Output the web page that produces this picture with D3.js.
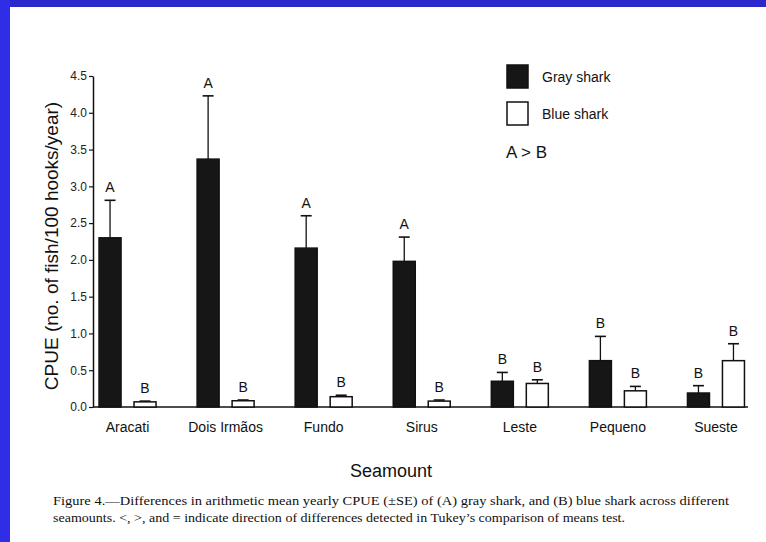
<!DOCTYPE html>
<html>
<head>
<meta charset="utf-8">
<script src="https://cdn.jsdelivr.net/npm/d3@7"></script>
<style>
  body { margin: 0; background: #fff; }
  svg { display: block; font-family: "Liberation Sans", Arial, sans-serif; }
</style>
</head>
<body>
<div id="chart"></div>
<script>
// seamounts and CPUE (no. of fish/100 hooks/year)
const seamounts = ['Aracati', 'Dois Irmãos', 'Fundo', 'Sirus', 'Leste', 'Pequeno', 'Sueste']
const species = ['Gray shark', 'Blue shark']
const grayMean = [2.30, 3.37, 2.16, 1.98, 0.35, 0.63, 0.19]
const grayTop = [2.81, 4.23, 2.60, 2.31, 0.47, 0.96, 0.29]
const blueMean = [0.07, 0.085, 0.14, 0.08, 0.32, 0.22, 0.63]
const blueTop = [0.08, 0.095, 0.16, 0.095, 0.37, 0.28, 0.86]
const grayLetter = ['A', 'A', 'A', 'A', 'B', 'B', 'B']
const blueLetter = ['B', 'B', 'B', 'B', 'B', 'B', 'B']
const yTicks = [0, 0.5, 1, 1.5, 2, 2.5, 3, 3.5, 4, 4.5]
const captionLines = [
  'Figure 4.\u2014Differences in arithmetic mean yearly CPUE (\u00b1SE) of (A) gray shark, and (B) blue shark across different',
  'seamounts. <, >, and = indicate direction of differences detected in Tukey\u2019s comparison of means test.'
]

const W = 766
const H = 542
const chart = {left: 93, right: 748, top: 76, bottom: 407}

const svg = d3.select('#chart')
  .append('svg')
  .attr('width', W)
  .attr('height', H)

svg.append('rect').attr('width', W).attr('height', H).attr('fill', '#fff')
// blue slide frame
svg.append('rect').attr('x', 0).attr('y', 0).attr('width', W).attr('height', 7).attr('fill', '#2b28cc')
svg.append('rect').attr('x', 0).attr('y', 0).attr('width', 10).attr('height', H).attr('fill', '#2f2ee6')

const x = d3.scaleBand()
  .domain(seamounts)
  .range([78.5, 765])
  .padding(0)

const inner = d3.scaleBand()
  .domain(species)
  .range([-28.5, 28.5])
  .paddingInner(0.371)

const y = d3.scaleLinear()
  .domain([0, 4.5])
  .range([chart.bottom, chart.top])

// build rows for the bars
let rows = []
seamounts.forEach((s, i) => {
  rows.push({seamount: s, sp: species[0], mean: grayMean[i], top: grayTop[i], letter: grayLetter[i]})
  rows.push({seamount: s, sp: species[1], mean: blueMean[i], top: blueTop[i], letter: blueLetter[i]})
})
const cx = d => x(d.seamount) + x.bandwidth() / 2 + inner(d.sp)

// y axis
const yAxis = d3.axisLeft(y)
  .tickValues(yTicks)
  .tickFormat(d3.format('.1f'))
  .tickSize(4)
  .tickSizeOuter(0)

const gy = svg.append('g')
  .attr('transform', 'translate(' + chart.left + ',0)')
  .call(yAxis)
gy.select('.domain').attr('stroke', '#111').attr('stroke-width', 1.5)
gy.selectAll('.tick line').attr('stroke', '#111').attr('stroke-width', 1.2)
gy.selectAll('.tick text')
  .attr('x', -6)
  .attr('fill', '#222')
  .style('font-size', '12px')
  .style('font-family', '"Liberation Sans", Arial, sans-serif')

// x axis baseline
svg.append('line')
  .attr('x1', chart.left)
  .attr('x2', chart.right)
  .attr('y1', y(0))
  .attr('y2', y(0))
  .attr('stroke', '#111')
  .attr('stroke-width', 1.5)

// error bars (drawn under the bars)
let err = svg.selectAll('.err')
  .data(rows)
  .enter()
  .append('g')
  .attr('class', 'err')

err.append('line')
  .attr('x1', d => cx(d) + inner.bandwidth() / 2)
  .attr('x2', d => cx(d) + inner.bandwidth() / 2)
  .attr('y1', d => y(d.mean))
  .attr('y2', d => y(d.top))
  .attr('stroke', '#111')
  .attr('stroke-width', 1.3)

err.append('line')
  .attr('x1', d => cx(d) + inner.bandwidth() / 2 - 5.5)
  .attr('x2', d => cx(d) + inner.bandwidth() / 2 + 5.5)
  .attr('y1', d => y(d.top))
  .attr('y2', d => y(d.top))
  .attr('stroke', '#111')
  .attr('stroke-width', 1.6)

// bars
svg.selectAll('.bar')
  .data(rows)
  .enter()
  .append('rect')
  .attr('class', 'bar')
  .attr('x', d => cx(d))
  .attr('y', d => y(d.mean))
  .attr('width', inner.bandwidth())
  .attr('height', d => y(0) - y(d.mean))
  .attr('fill', d => d.sp === species[0] ? '#161616' : '#fff')
  .attr('stroke', '#111')
  .attr('stroke-width', 1.5)

// Tukey letters
svg.selectAll('.letter')
  .data(rows)
  .enter()
  .append('text')
  .attr('class', 'letter')
  .attr('x', d => cx(d) + inner.bandwidth() / 2)
  .attr('y', d => y(d.top) - 8)
  .attr('text-anchor', 'middle')
  .style('font-size', '14px')
  .attr('fill', '#111')
  .text(d => d.letter)

// category labels
svg.selectAll('.xlabel')
  .data(seamounts)
  .enter()
  .append('text')
  .attr('class', 'xlabel')
  .attr('x', d => x(d) + x.bandwidth() / 2)
  .attr('y', 432)
  .attr('text-anchor', 'middle')
  .style('font-size', '14px')
  .attr('fill', '#111')
  .text(d => d)

// axis titles
svg.append('text')
  .attr('transform', 'translate(58,' + 246 + ') rotate(-90)')
  .attr('text-anchor', 'middle')
  .style('font-size', '19px')
  .attr('fill', '#111')
  .text('CPUE (no. of fish/100 hooks/year)')

svg.append('text')
  .attr('x', 391)
  .attr('y', 477)
  .attr('text-anchor', 'middle')
  .style('font-size', '18px')
  .attr('fill', '#111')
  .text('Seamount')

// legend
const legend = svg.selectAll('.legend')
  .data(species)
  .enter()
  .append('g')
  .attr('class', 'legend')
  .attr('transform', (d, i) => 'translate(507,' + (65 + i * 37) + ')')

legend.append('rect')
  .attr('width', 21)
  .attr('height', 23)
  .attr('fill', (d, i) => i === 0 ? '#161616' : '#fff')
  .attr('stroke', '#111')
  .attr('stroke-width', 1.5)

legend.append('text')
  .attr('x', 35)
  .attr('y', 17)
  .style('font-size', '14px')
  .attr('fill', '#111')
  .text(d => d)

svg.append('text')
  .attr('x', 506)
  .attr('y', 158)
  .style('font-size', '17px')
  .attr('fill', '#111')
  .text('A > B')

// figure caption
svg.selectAll('.caption')
  .data(captionLines)
  .enter()
  .append('text')
  .attr('class', 'caption')
  .attr('x', 53)
  .attr('y', (d, i) => 505 + i * 16.5)
  .attr('textLength', (d, i) => i === 0 ? 676 : 572)
  .attr('lengthAdjust', 'spacingAndGlyphs')
  .style('font-family', '"Liberation Serif", "Times New Roman", serif')
  .style('font-size', '13.5px')
  .attr('fill', '#111')
  .text(d => d)
</script>
</body>
</html>
